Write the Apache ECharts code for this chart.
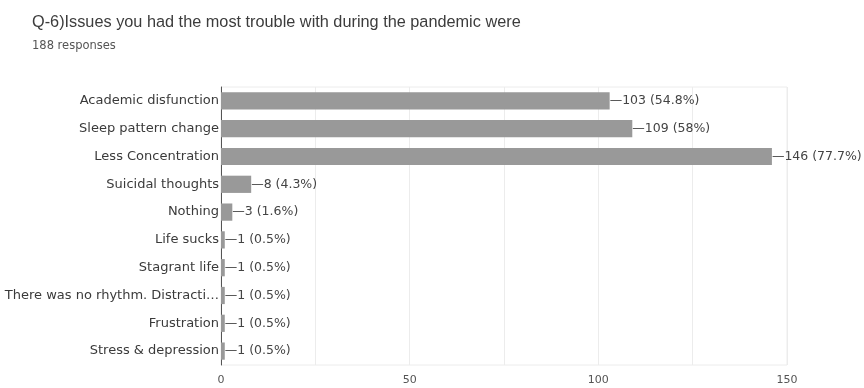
<!DOCTYPE html>
<html>
<head>
<meta charset="utf-8">
<script src="https://cdn.jsdelivr.net/npm/echarts@6/dist/echarts.min.js"></script>
<style>
  html, body { margin: 0; padding: 0; background: #fff; }
  #chart { width: 864px; height: 388px; }
</style>
</head>
<body>
<div id="chart"></div>
<script>
// Survey answers, top to bottom
const categories = [
  'Academic disfunction',
  'Sleep pattern change',
  'Less Concentration',
  'Suicidal thoughts',
  'Nothing',
  'Life sucks',
  'Stagrant life',
  'There was no rhythm. Distracti…',
  'Frustration',
  'Stress & depression'
];
const counts = [103, 109, 146, 8, 3, 1, 1, 1, 1, 1];
const totalResponses = 188;
const xTicks = [0, 50, 100, 150];

const TITLE_FONT = '"Liberation Sans", Arial, Helvetica, sans-serif';
const FONT = '"DejaVu Sans", Verdana, sans-serif';

const chart = echarts.init(document.getElementById('chart'), null, { renderer: 'canvas' });

chart.setOption({
  animation: false,
  backgroundColor: '#ffffff',
  title: {
    text: 'Q-6)Issues you had the most trouble with during the pandemic were',
    subtext: totalResponses + ' responses',
    left: 27,
    top: 10,
    itemGap: 9,
    textStyle: { fontFamily: TITLE_FONT, fontSize: 16.3, fontWeight: 'normal', color: '#3c3c3c' },
    subtextStyle: { fontFamily: FONT, fontSize: 11.5, color: '#555' }
  },
  grid: {
    left: 221, right: 77, top: 87, bottom: 23,
    show: true, borderColor: '#ececec', borderWidth: 1
  },
  xAxis: {
    type: 'value',
    min: 0, max: 150, interval: 25,
    axisLine: { show: false },
    axisTick: { show: false },
    splitLine: { show: true, lineStyle: { color: '#ececec', width: 1 } },
    axisLabel: {
      margin: 10,
      fontFamily: FONT, fontSize: 11, color: '#555',
      formatter: v => (xTicks.indexOf(v) >= 0 ? String(v) : '')
    }
  },
  yAxis: {
    type: 'category',
    inverse: true,
    data: categories,
    axisLine: { show: true, lineStyle: { color: '#555', width: 1 } },
    axisTick: { show: false },
    splitLine: { show: false },
    axisLabel: { margin: 2, fontFamily: FONT, fontSize: 13, color: '#3a3a3a' }
  },
  series: [{
    type: 'bar',
    data: counts,
    barWidth: '62%',
    itemStyle: { color: '#999999' },
    label: {
      show: true,
      position: 'right',
      distance: 0,
      fontFamily: FONT, fontSize: 12.5, color: '#444',
      formatter: p => '—' + p.value + ' (' + (Math.round(p.value / totalResponses * 1000) / 10) + '%)'
    }
  }]
});
</script>
</body>
</html>
